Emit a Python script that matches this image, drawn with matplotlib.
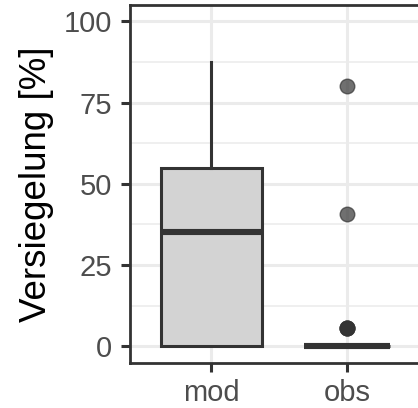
import matplotlib
matplotlib.use("Agg")
import matplotlib.pyplot as plt

plt.rcParams["font.family"] = ["Liberation Sans", "DejaVu Sans"]

# box statistics
groups = ["mod", "obs"]
q1 = [0.0, 0.0]
median = [35.1, 0.0]
q3 = [54.9, 0.0]
whisker_low = [0.0, 0.0]
whisker_high = [87.4, 0.0]
box_widths = [0.75, 0.63]
outliers = [[], [80.1, 40.8, 5.6, 5.6, 5.6, 5.6]]

y_ticks = [0, 25, 50, 75, 100]
y_minor = [12.5, 37.5, 62.5, 87.5]

LINE = "#333333"
GRID = "#ebebeb"

# the panel runs past the right edge of the picture, so stop the axes at the
# edge and cut the x range to match
px_per_unit = 298.3 / 2.2
fig = plt.figure(figsize=(4.18, 4.08), dpi=100)
ax = fig.add_axes([130 / 418, 45.3 / 408, 288 / 418, 357.7 / 408])

stats = []
for i, g in enumerate(groups):
    stats.append({
        "label": g, "q1": q1[i], "med": median[i], "q3": q3[i],
        "whislo": whisker_low[i], "whishi": whisker_high[i], "fliers": outliers[i],
    })

ax.bxp(
    stats, positions=[1, 2], widths=box_widths, patch_artist=True, showcaps=False,
    boxprops=dict(facecolor="#d3d3d3", edgecolor=LINE, linewidth=2.2),
    medianprops=dict(color=LINE, linewidth=4.4, solid_capstyle="butt"),
    whiskerprops=dict(color=LINE, linewidth=2.2),
    flierprops=dict(marker="o", markersize=10.5, markerfacecolor=LINE,
                    markeredgecolor=LINE, alpha=0.7, linestyle="none"),
    zorder=3,
)

ax.set_xlim(0.4, 0.4 + 288 / px_per_unit)
ax.set_ylim(-5, 105)
ax.set_yticks(y_ticks)
ax.set_yticks(y_minor, minor=True)
ax.set_xticks([1, 2])
ax.set_xticklabels(groups)

ax.grid(True, which="major", color=GRID, linewidth=2.2, zorder=0)
ax.grid(True, which="minor", axis="y", color=GRID, linewidth=1.1, zorder=0)
ax.set_axisbelow(True)

ax.tick_params(axis="both", which="major", length=6.5, width=2.2, color=LINE,
               labelsize=21, labelcolor="#4d4d4d")
ax.tick_params(axis="y", which="major", pad=6.5)
ax.tick_params(axis="x", which="major", pad=5.5)
ax.tick_params(axis="y", which="minor", length=0)

for sp in ax.spines.values():
    sp.set_color(LINE)
    sp.set_linewidth(2.0)
ax.spines["right"].set_visible(False)

ax.set_ylabel("Versiegelung [%]", fontsize=26.5, color="black", labelpad=7)

fig.savefig("out.png", dpi=100)
